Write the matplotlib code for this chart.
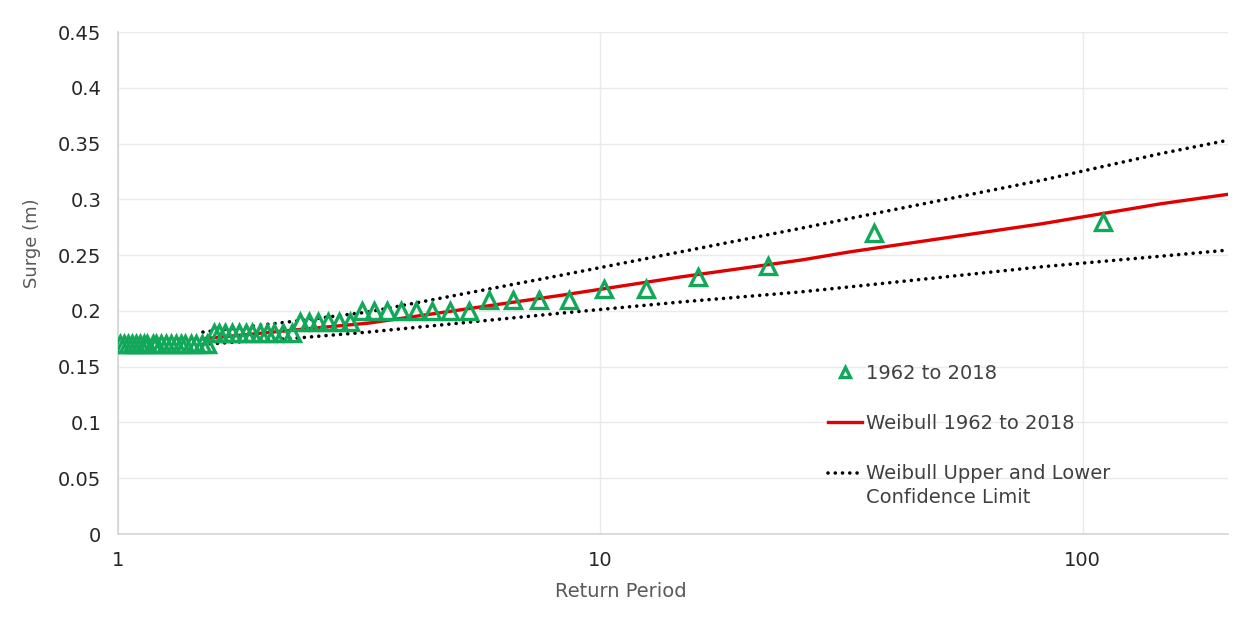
import matplotlib
matplotlib.use("Agg")
import matplotlib.pyplot as plt
from matplotlib.legend_handler import HandlerLine2D
from matplotlib.lines import Line2D
from matplotlib.ticker import FixedLocator, FuncFormatter, NullLocator

# ---- data ----
return_period = [110.0, 36.9, 22.30, 15.95, 12.44, 10.18, 8.62, 7.47, 6.59, 5.89,
                 5.33, 4.87, 4.48, 4.15, 3.86, 3.61, 3.39, 3.20, 3.03, 2.87,
                 2.73, 2.60, 2.49, 2.38, 2.29, 2.20, 2.11, 2.04, 1.97, 1.90,
                 1.84, 1.78, 1.72, 1.67, 1.62, 1.58, 1.53, 1.49, 1.45, 1.42,
                 1.38, 1.35, 1.32, 1.29, 1.26, 1.23, 1.20, 1.18, 1.15, 1.13,
                 1.11, 1.09, 1.07, 1.05, 1.03, 1.01]
surge = [0.28, 0.27, 0.24, 0.23, 0.22, 0.22, 0.21, 0.21, 0.21, 0.21,
         0.20, 0.20, 0.20, 0.20, 0.20, 0.20, 0.20, 0.20, 0.19, 0.19,
         0.19, 0.19, 0.19, 0.19, 0.18, 0.18, 0.18, 0.18, 0.18, 0.18,
         0.18, 0.18, 0.18, 0.18, 0.18, 0.18, 0.17, 0.17, 0.17, 0.17,
         0.17, 0.17, 0.17, 0.17, 0.17, 0.17, 0.17, 0.17, 0.17, 0.17,
         0.17, 0.17, 0.17, 0.17, 0.17, 0.17]

fit_period = [1.5, 2.4, 3.3, 8.3, 14.7, 26, 33, 82, 145, 200]
weibull_fit = [0.175, 0.1835, 0.189, 0.214, 0.2305, 0.2455, 0.253, 0.278, 0.296, 0.3045]
weibull_upper = [0.181, 0.1915, 0.199, 0.232, 0.253, 0.274, 0.283, 0.317, 0.341, 0.353]
weibull_lower = [0.170, 0.176, 0.181, 0.198, 0.208, 0.217, 0.2216, 0.2395, 0.249, 0.2545]

x_ticks = [1, 10, 100]
y_ticks = [0, 0.05, 0.1, 0.15, 0.2, 0.25, 0.3, 0.35, 0.4, 0.45]

series_label = "1962 to 2018"
fit_label = "Weibull 1962 to 2018"
ci_label = "Weibull Upper and Lower\nConfidence Limit"

GREEN = "#12A85A"
RED = "#E00000"
GRID = "#EAEAEA"
TICK_C = "#262626"
LABEL_C = "#595959"
LEG_LINESPACING = 1.35

plt.rcParams["font.family"] = ["DejaVu Sans"]

fig = plt.figure(figsize=(12.49, 6.19), dpi=100)
ax = fig.add_axes([118 / 1249, 1 - 534 / 619, 1110 / 1249, 502 / 619])

ax.plot(fit_period, weibull_upper, color="black", lw=2.6, ls=(0, (0.01, 2.0)),
        dash_capstyle="round", zorder=2, label=ci_label)
ax.plot(fit_period, weibull_lower, color="black", lw=2.6, ls=(0, (0.01, 2.0)),
        dash_capstyle="round", zorder=2)
ax.plot(fit_period, weibull_fit, color=RED, lw=2.4, zorder=3, label=fit_label)
ax.plot(return_period, surge, ls="none", marker="^", ms=12, mew=2.4,
        mfc="none", mec=GREEN, zorder=4, label=series_label)

ax.set_xscale("log")
ax.set_xlim(1, 200)
ax.set_ylim(0, 0.45)
ax.xaxis.set_major_locator(FixedLocator(x_ticks))
ax.xaxis.set_minor_locator(NullLocator())
ax.xaxis.set_major_formatter(FuncFormatter(lambda v, p: f"{v:g}"))
ax.yaxis.set_major_locator(FixedLocator(y_ticks))
ax.yaxis.set_major_formatter(FuncFormatter(lambda v, p: f"{v:g}"))

ax.grid(True, color=GRID, lw=1)
ax.set_axisbelow(True)
for s in ["top", "right"]:
    ax.spines[s].set_visible(False)
for s in ["left", "bottom"]:
    ax.spines[s].set_color("#D4D4D4")
    ax.spines[s].set_linewidth(1.2)
ax.tick_params(axis="both", length=0, labelsize=14, colors=TICK_C)
ax.tick_params(axis="y", pad=12)
ax.tick_params(axis="x", pad=12)

ax.set_xlabel("Return Period", fontsize=14, color=LABEL_C, va="center")
ax.xaxis.set_label_coords(0.453, -0.1155)
ax.set_ylabel("Surge (m)", fontsize=13, color=LABEL_C, va="center")
ax.yaxis.set_label_coords(-0.0775, 0.58)


class TopLineHandler(HandlerLine2D):
    def create_artists(self, legend, orig_handle, xdescent, ydescent,
                       width, height, fontsize, trans):
        arts = super().create_artists(legend, orig_handle, xdescent, ydescent,
                                      width, height, fontsize, trans)
        for a in arts:
            if isinstance(a, Line2D):
                y = a.get_ydata()
                a.set_ydata([v + 0.5 * LEG_LINESPACING * fontsize for v in y])
        return arts


handles, labels = ax.get_legend_handles_labels()
order = [labels.index(series_label), labels.index(fit_label), labels.index(ci_label)]
h = [handles[i] for i in order]
l = [labels[i] for i in order]
leg = ax.legend(h, l, loc="upper left",
                bbox_to_anchor=(828 / 1249, 1 - 364 / 619),
                bbox_transform=fig.transFigure, frameon=False, fontsize=14,
                borderpad=0, borderaxespad=0, handlelength=1.75,
                handletextpad=0.2, labelspacing=1.6, markerscale=0.55,
                numpoints=1, handler_map={h[2]: TopLineHandler()})
for t in leg.get_texts():
    t.set_color("#404040")
    t.set_linespacing(LEG_LINESPACING)

fig.savefig("out.png", dpi=100)
